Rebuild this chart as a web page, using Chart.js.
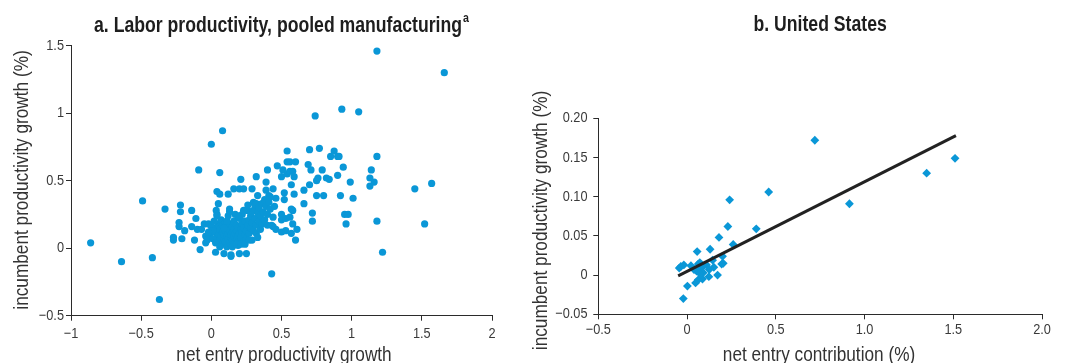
<!DOCTYPE html>
<html>
<head>
<meta charset="utf-8">
<script src="https://cdn.jsdelivr.net/npm/chart.js@4"></script>
<style>
  html, body { margin: 0; padding: 0; background: #fff; }
  #wrap { position: relative; width: 1065px; height: 363px; overflow: hidden; }
  #leftBox { position: absolute; left: 0; top: 0; width: 530px; height: 363px; }
  #rightBox { position: absolute; left: 530px; top: 0; width: 535px; height: 363px; }
</style>
</head>
<body>
<div id="wrap">
  <div id="leftBox"><canvas id="pooled" width="530" height="363"></canvas></div>
  <div id="rightBox"><canvas id="us" width="535" height="363"></canvas></div>
</div>
<script>
// Panel a: pooled manufacturing (net entry vs incumbent labor productivity growth)
const pooledNetEntry = [
  -0.86,-0.64,-0.49,-0.42,-0.37,-0.33,-0.27,-0.27,-0.23,-0.23,
  -0.22,-0.22,-0.21,-0.19,-0.14,-0.14,-0.12,-0.11,-0.10,-0.09,
  -0.08,-0.07,-0.05,-0.04,-0.04,-0.03,-0.02,-0.01,0.00,0.08,
  0.06,0.04,0.06,0.05,0.12,0.035,0.04,0.03,0.09,0.14,
  0.14,0.20,0.25,0.16,0.20,0.23,0.21,0.29,0.32,0.13,
  0.33,0.30,0.32,0.39,0.40,0.39,0.41,0.44,0.47,0.46,
  0.50,0.51,0.52,0.52,0.54,0.54,0.56,0.54,0.56,0.58,
  0.59,0.57,0.58,0.59,0.60,0.50,0.50,0.53,0.56,0.57,
  0.58,0.57,0.50,0.53,0.61,0.60,0.43,0.44,0.46,0.43,
  0.66,0.66,0.69,0.70,0.70,0.71,0.72,0.72,0.74,0.75,
  0.76,0.75,0.77,0.79,0.80,0.82,0.84,0.85,0.875,0.90,
  0.91,0.90,0.92,0.94,0.93,0.99,0.95,0.975,0.96,1.01,
  1.05,1.13,1.13,1.14,1.16,1.18,1.18,1.18,1.22,1.45,
  1.52,1.57,1.66,
  0.02,0.03,0.04,0.05,0.05,0.06,0.06,0.07,0.07,0.08,
  0.08,0.08,0.09,0.09,0.10,0.10,0.10,0.11,0.11,0.11,
  0.12,0.12,0.12,0.13,0.13,0.13,0.14,0.14,0.14,0.15,
  0.15,0.15,0.16,0.16,0.16,0.17,0.17,0.17,0.18,0.18,
  0.18,0.19,0.19,0.19,0.20,0.20,0.20,0.21,0.21,0.22,
  0.22,0.22,0.23,0.23,0.24,0.24,0.25,0.25,0.26,0.26,
  0.27,0.27,0.28,0.28,0.29,0.29,0.30,0.30,0.31,0.31,
  0.32,0.32,0.33,0.33,0.34,0.34,0.35,0.35,0.36,0.36,
  0.37,0.38,0.38,0.39,0.40,0.40,0.41,0.42,0.42,0.44,
  0.45,0.00,0.01,0.02,0.03,0.01,-0.02,0.06,0.04,0.09,
  0.11,0.13,0.15,0.18,0.21,0.24,0.27,0.23,0.19,0.26
];
const pooledIncumbent = [
  0.04,-0.10,0.35,-0.07,-0.38,0.29,0.08,0.06,0.19,0.16,
  0.27,0.32,0.07,0.13,0.28,0.16,0.06,0.22,0.14,0.58,
  -0.01,0.14,0.18,0.09,0.04,0.06,0.18,0.10,0.77,0.87,
  0.56,0.42,0.40,0.33,0.40,0.28,0.25,-0.03,-0.04,-0.06,
  -0.05,-0.04,-0.04,0.44,0.44,0.44,0.51,0.44,0.53,0.29,
  0.39,0.34,0.33,0.49,0.58,0.43,0.39,0.44,0.61,0.37,
  0.53,0.58,0.41,0.36,0.72,0.64,0.64,0.55,0.57,0.57,
  0.53,0.47,0.28,0.40,0.64,0.25,0.21,0.22,0.23,0.29,
  0.18,0.11,0.12,0.13,0.14,0.06,-0.19,0.16,0.14,0.17,
  0.43,0.33,0.62,0.73,0.47,0.58,0.26,0.20,0.98,0.50,
  0.52,0.39,0.74,0.58,0.39,0.52,0.51,0.68,0.72,0.68,
  0.68,0.54,0.39,0.60,1.03,0.49,0.25,0.25,0.18,0.37,
  1.01,0.52,0.46,0.58,0.49,0.68,0.20,1.46,-0.03,0.44,
  0.18,0.48,1.30,
  0.12,0.15,0.08,0.11,0.18,0.06,0.14,0.09,0.21,0.03,
  0.12,0.17,0.07,0.10,0.05,0.13,0.19,0.01,0.09,0.15,
  0.07,0.11,0.24,0.04,0.13,0.18,0.08,0.10,0.02,0.12,
  0.16,0.06,0.09,0.20,0.14,0.04,0.11,0.25,0.07,0.13,
  0.17,0.09,0.02,0.15,0.11,0.06,0.22,0.14,0.08,0.18,
  0.12,0.25,0.05,0.15,0.10,0.20,0.13,0.07,0.17,0.28,
  0.21,0.11,0.15,0.24,0.06,0.19,0.28,0.13,0.22,0.32,
  0.17,0.11,0.26,0.08,0.20,0.30,0.14,0.24,0.33,0.18,
  0.27,0.36,0.21,0.31,0.17,0.25,0.34,0.29,0.38,0.23,
  0.31,0.16,0.07,0.20,0.04,0.13,0.12,0.01,0.24,0.15,
  0.20,0.27,0.01,0.03,0.03,0.03,0.06,0.28,0.24,0.32
];

// Panel b: United States
const usNetEntry = [
  0.72,1.51,1.35,0.915,0.46,0.24,0.39,0.23,0.18,0.26,
  0.13,0.057,0.20,0.204,0.195,0.144,0.151,0.125,0.123,0.172,
  0.087,0.048,0.002,-0.021,-0.044,-0.035,-0.018,0.022,0.039,0.063,
  0.072,0.054,0.082,0.091,0.11,0.072,0.063
];
const usIncumbent = [
  0.172,0.149,0.13,0.091,0.106,0.096,0.059,0.062,0.048,0.039,
  0.033,0.03,0.024,0.015,0.014,0.019,0.01,0.007,-0.002,0.0,
  -0.005,-0.01,-0.014,-0.03,0.009,0.011,0.013,0.012,0.007,0.014,
  0.016,0.005,0.009,0.003,0.013,0.002,-0.006
];
// Fitted line endpoints
const usFitX = [-0.05, 1.515];
const usFitY = [-0.001, 0.178];

// Axis ticks
const pooledXTicks = [-1, -0.5, 0, 0.5, 1, 1.5, 2];
const pooledXLabels = ['\u22121', '\u22120.5', '0', '0.5', '1', '1.5', '2'];
const pooledYTicks = [-0.5, 0, 0.5, 1, 1.5];
const pooledYLabels = ['\u22120.5', '0', '0.5', '1', '1.5'];
const usXTicks = [-0.5, 0, 0.5, 1, 1.5, 2];
const usXLabels = ['\u22120.5', '0', '0.5', '1.0', '1.5', '2.0'];
const usYTicks = [-0.05, 0, 0.05, 0.10, 0.15, 0.20];
const usYLabels = ['\u22120.05', '0', '0.05', '0.10', '0.15', '0.20'];

const FONT = "'Liberation Sans', Arial, sans-serif";
const BLUE = '#0a97d7';
const INK = '#2b2b2b';

const zip = (xs, ys) => xs.map((x, i) => ({ x, y: ys[i] }));

// Narrow text: Liberation Sans squeezed horizontally
function narrowText(ctx, text, x, y, o) {
  ctx.save();
  ctx.translate(x, y);
  if (o.rotate) ctx.rotate(-Math.PI / 2);
  ctx.scale(o.sx, 1);
  ctx.font = `${o.weight || 'normal'} ${o.size}px ${FONT}`;
  ctx.fillStyle = o.color;
  ctx.textAlign = o.align || 'center';
  ctx.textBaseline = o.baseline || 'alphabetic';
  ctx.fillText(text, 0, 0);
  ctx.restore();
}
function narrowWidth(ctx, text, o) {
  ctx.save();
  ctx.font = `${o.weight || 'normal'} ${o.size}px ${FONT}`;
  const w = ctx.measureText(text).width * o.sx;
  ctx.restore();
  return w;
}

// Tick labels, axis titles and the panel heading
const panelText = {
  id: 'panelText',
  afterDraw(chart, args, p) {
    const { ctx, chartArea, scales } = chart;
    const tick = { size: 15, sx: 0.85, color: '#3a3a3a' };
    p.xTicks.forEach((v, i) => {
      narrowText(ctx, p.xLabels[i], scales.x.getPixelForValue(v), p.xLabelBaseline, tick);
    });
    p.yTicks.forEach((v, i) => {
      narrowText(ctx, p.yLabels[i], p.yLabelRight, scales.y.getPixelForValue(v),
        { ...tick, align: 'right', baseline: 'middle' });
    });
    const axisTitle = { size: 21, sx: 0.82, color: '#333' };
    narrowText(ctx, p.xTitle, p.xTitleCenter, p.xTitleBaseline, axisTitle);
    narrowText(ctx, p.yTitle, p.yTitleBaseline, p.yTitleCenter, { ...axisTitle, rotate: true });

    const head = { size: 21.5, sx: 0.82, color: '#1e1e1e', weight: 'bold', align: 'left' };
    const supO = { size: 13, sx: 0.82, color: '#1e1e1e', weight: 'bold', align: 'left' };
    const mainW = narrowWidth(ctx, p.title, head);
    const supW = p.sup ? narrowWidth(ctx, p.sup, supO) + 1 : 0;
    const x0 = (chartArea.left + chartArea.right) / 2 - (mainW + supW) / 2;
    narrowText(ctx, p.title, x0, p.titleBaseline, head);
    if (p.sup) narrowText(ctx, p.sup, x0 + mainW + 1, p.titleBaseline - 9.5, supO);
  }
};

function axis(min, max, ticks, fixedSize, isX) {
  return {
    type: 'linear',
    min, max,
    afterBuildTicks: (s) => { s.ticks = ticks.map(v => ({ value: v })); },
    afterFit: (s) => { if (isX) s.height = fixedSize; else s.width = fixedSize; },
    ticks: { display: false },
    grid: { display: true, drawOnChartArea: false, drawTicks: true, tickLength: 5, color: INK, lineWidth: 1 },
    border: { display: true, color: INK, width: 1 },
    title: { display: false }
  };
}

new Chart(document.getElementById('pooled'), {
  type: 'scatter',
  data: {
    datasets: [{
      data: zip(pooledNetEntry, pooledIncumbent),
      backgroundColor: BLUE,
      borderWidth: 0,
      pointRadius: 3.6,
      pointHoverRadius: 3.6
    }]
  },
  options: {
    responsive: false,
    animation: false,
    events: [],
    layout: { padding: { left: 0, right: 38, top: 45.7, bottom: 0 } },
    plugins: {
      legend: { display: false },
      tooltip: { enabled: false },
      panelText: {
        xTicks: pooledXTicks, xLabels: pooledXLabels, xLabelBaseline: 337.5,
        yTicks: pooledYTicks, yLabels: pooledYLabels, yLabelRight: 64,
        xTitle: 'net entry productivity growth', xTitleCenter: 284, xTitleBaseline: 361,
        yTitle: 'incumbent productivity growth (%)', yTitleBaseline: 28, yTitleCenter: 180,
        title: 'a. Labor productivity, pooled manufacturing', sup: 'a', titleBaseline: 31.5
      }
    },
    scales: {
      x: axis(-1, 2, pooledXTicks, 47.3, true),
      y: axis(-0.5, 1.5, pooledYTicks, 71, false)
    }
  },
  plugins: [panelText]
});

new Chart(document.getElementById('us'), {
  type: 'scatter',
  data: {
    datasets: [{
      data: zip(usNetEntry, usIncumbent),
      backgroundColor: BLUE,
      borderWidth: 0,
      pointStyle: 'rectRot',
      pointRadius: 4.4,
      pointHoverRadius: 4.4,
      order: 2
    }, {
      type: 'line',
      data: zip(usFitX, usFitY),
      borderColor: '#222',
      borderWidth: 3,
      pointRadius: 0,
      fill: false,
      order: 1
    }]
  },
  options: {
    responsive: false,
    animation: false,
    events: [],
    layout: { padding: { left: 0, right: 23, top: 118.3, bottom: 0 } },
    plugins: {
      legend: { display: false },
      tooltip: { enabled: false },
      panelText: {
        xTicks: usXTicks, xLabels: usXLabels, xLabelBaseline: 333.5,
        yTicks: usYTicks, yLabels: usYLabels, yLabelRight: 57.5,
        xTitle: 'net entry contribution (%)', xTitleCenter: 289, xTitleBaseline: 361,
        yTitle: 'incumbent productivity growth (%)', yTitleBaseline: 16.5, yTitleCenter: 220.5,
        title: 'b. United States', titleBaseline: 31
      }
    },
    scales: {
      x: axis(-0.5, 2, usXTicks, 48.7, true),
      y: axis(-0.05, 0.20, usYTicks, 68.3, false)
    }
  },
  plugins: [panelText]
});
</script>
</body>
</html>
